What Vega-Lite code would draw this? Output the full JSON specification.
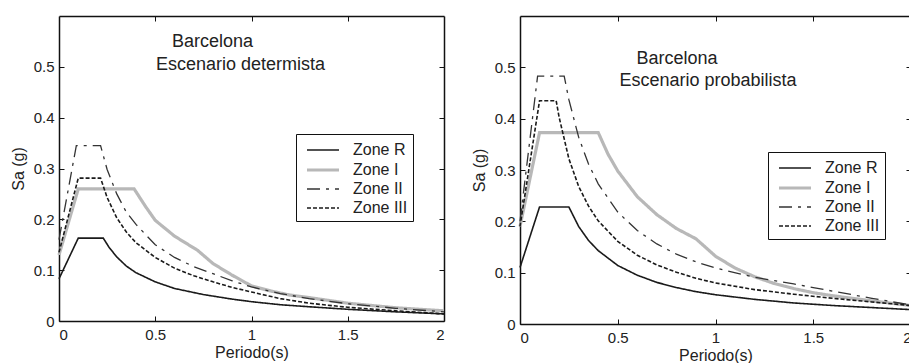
{
  "$schema": "https://vega.github.io/schema/vega-lite/v6.json",
  "padding": {"left": 10, "top": 15, "right": 0, "bottom": 0},
  "background": "white",
  "spacing": 20,
  "config": {
    "view": {"stroke": null},
    "font": "Liberation Sans",
    "axis": {"grid": false, "domainColor": "#111", "domainWidth": 1.5, "tickColor": "#111", "tickSize": -5, "tickWidth": 1, "labelFont": "Liberation Sans", "labelFontSize": 15, "labelColor": "#222", "titleFont": "Liberation Sans", "titleFontSize": 16, "titleFontWeight": "normal", "titleColor": "#222"},
    "legend": {"title": null, "symbolType": "M-1.6,0H1.6", "symbolSize": 400, "labelFontSize": 16, "labelFont": "Liberation Sans", "labelColor": "#222", "strokeColor": "#111", "fillColor": "white", "padding": 5, "symbolOffset": 10, "labelOffset": 18, "rowPadding": 0}
  },
  "resolve": {
    "scale": {"color": "independent", "strokeDash": "independent", "strokeWidth": "independent"},
    "legend": {"color": "independent", "strokeDash": "independent", "strokeWidth": "independent"}
  },
  "datasets": {
    "det": [
      {"T": 0, "Sa": 0.083, "zone": "Zone R"}, {"T": 0.1, "Sa": 0.163, "zone": "Zone R"}, {"T": 0.23, "Sa": 0.163, "zone": "Zone R"}, {"T": 0.26, "Sa": 0.145, "zone": "Zone R"}, {"T": 0.3, "Sa": 0.126, "zone": "Zone R"}, {"T": 0.35, "Sa": 0.108, "zone": "Zone R"}, {"T": 0.4, "Sa": 0.095, "zone": "Zone R"}, {"T": 0.5, "Sa": 0.077, "zone": "Zone R"}, {"T": 0.6, "Sa": 0.064, "zone": "Zone R"}, {"T": 0.75, "Sa": 0.052, "zone": "Zone R"}, {"T": 0.9, "Sa": 0.043, "zone": "Zone R"}, {"T": 1.0, "Sa": 0.038, "zone": "Zone R"}, {"T": 1.15, "Sa": 0.032, "zone": "Zone R"}, {"T": 1.3, "Sa": 0.028, "zone": "Zone R"}, {"T": 1.5, "Sa": 0.023, "zone": "Zone R"}, {"T": 1.75, "Sa": 0.018, "zone": "Zone R"}, {"T": 2.0, "Sa": 0.014, "zone": "Zone R"},
      {"T": 0, "Sa": 0.13, "zone": "Zone I"}, {"T": 0.1, "Sa": 0.26, "zone": "Zone I"}, {"T": 0.39, "Sa": 0.26, "zone": "Zone I"}, {"T": 0.45, "Sa": 0.225, "zone": "Zone I"}, {"T": 0.5, "Sa": 0.198, "zone": "Zone I"}, {"T": 0.6, "Sa": 0.167, "zone": "Zone I"}, {"T": 0.72, "Sa": 0.139, "zone": "Zone I"}, {"T": 0.8, "Sa": 0.113, "zone": "Zone I"}, {"T": 0.9, "Sa": 0.09, "zone": "Zone I"}, {"T": 1.0, "Sa": 0.069, "zone": "Zone I"}, {"T": 1.1, "Sa": 0.059, "zone": "Zone I"}, {"T": 1.2, "Sa": 0.051, "zone": "Zone I"}, {"T": 1.3, "Sa": 0.046, "zone": "Zone I"}, {"T": 1.5, "Sa": 0.035, "zone": "Zone I"}, {"T": 1.75, "Sa": 0.026, "zone": "Zone I"}, {"T": 2.0, "Sa": 0.02, "zone": "Zone I"},
      {"T": 0, "Sa": 0.16, "zone": "Zone II"}, {"T": 0.09, "Sa": 0.345, "zone": "Zone II"}, {"T": 0.216, "Sa": 0.345, "zone": "Zone II"}, {"T": 0.25, "Sa": 0.298, "zone": "Zone II"}, {"T": 0.3, "Sa": 0.25, "zone": "Zone II"}, {"T": 0.35, "Sa": 0.214, "zone": "Zone II"}, {"T": 0.4, "Sa": 0.19, "zone": "Zone II"}, {"T": 0.5, "Sa": 0.15, "zone": "Zone II"}, {"T": 0.6, "Sa": 0.125, "zone": "Zone II"}, {"T": 0.7, "Sa": 0.107, "zone": "Zone II"}, {"T": 0.8, "Sa": 0.093, "zone": "Zone II"}, {"T": 0.9, "Sa": 0.079, "zone": "Zone II"}, {"T": 1.0, "Sa": 0.067, "zone": "Zone II"}, {"T": 1.15, "Sa": 0.054, "zone": "Zone II"}, {"T": 1.3, "Sa": 0.044, "zone": "Zone II"}, {"T": 1.5, "Sa": 0.034, "zone": "Zone II"}, {"T": 1.75, "Sa": 0.025, "zone": "Zone II"}, {"T": 2.0, "Sa": 0.018, "zone": "Zone II"},
      {"T": 0, "Sa": 0.135, "zone": "Zone III"}, {"T": 0.1, "Sa": 0.281, "zone": "Zone III"}, {"T": 0.216, "Sa": 0.281, "zone": "Zone III"}, {"T": 0.25, "Sa": 0.243, "zone": "Zone III"}, {"T": 0.3, "Sa": 0.203, "zone": "Zone III"}, {"T": 0.35, "Sa": 0.175, "zone": "Zone III"}, {"T": 0.4, "Sa": 0.154, "zone": "Zone III"}, {"T": 0.5, "Sa": 0.125, "zone": "Zone III"}, {"T": 0.6, "Sa": 0.104, "zone": "Zone III"}, {"T": 0.7, "Sa": 0.089, "zone": "Zone III"}, {"T": 0.8, "Sa": 0.077, "zone": "Zone III"}, {"T": 0.9, "Sa": 0.066, "zone": "Zone III"}, {"T": 1.0, "Sa": 0.057, "zone": "Zone III"}, {"T": 1.15, "Sa": 0.044, "zone": "Zone III"}, {"T": 1.3, "Sa": 0.035, "zone": "Zone III"}, {"T": 1.5, "Sa": 0.027, "zone": "Zone III"}, {"T": 1.75, "Sa": 0.02, "zone": "Zone III"}, {"T": 2.0, "Sa": 0.014, "zone": "Zone III"}
    ],
    "prob": [
      {"T": 0, "Sa": 0.11, "zone": "Zone R"}, {"T": 0.1, "Sa": 0.228, "zone": "Zone R"}, {"T": 0.25, "Sa": 0.228, "zone": "Zone R"}, {"T": 0.3, "Sa": 0.19, "zone": "Zone R"}, {"T": 0.35, "Sa": 0.163, "zone": "Zone R"}, {"T": 0.4, "Sa": 0.143, "zone": "Zone R"}, {"T": 0.5, "Sa": 0.114, "zone": "Zone R"}, {"T": 0.6, "Sa": 0.095, "zone": "Zone R"}, {"T": 0.7, "Sa": 0.081, "zone": "Zone R"}, {"T": 0.8, "Sa": 0.071, "zone": "Zone R"}, {"T": 0.9, "Sa": 0.063, "zone": "Zone R"}, {"T": 1.0, "Sa": 0.057, "zone": "Zone R"}, {"T": 1.2, "Sa": 0.048, "zone": "Zone R"}, {"T": 1.4, "Sa": 0.041, "zone": "Zone R"}, {"T": 1.6, "Sa": 0.036, "zone": "Zone R"}, {"T": 1.8, "Sa": 0.032, "zone": "Zone R"}, {"T": 2.0, "Sa": 0.028, "zone": "Zone R"},
      {"T": 0, "Sa": 0.19, "zone": "Zone I"}, {"T": 0.1, "Sa": 0.373, "zone": "Zone I"}, {"T": 0.4, "Sa": 0.373, "zone": "Zone I"}, {"T": 0.45, "Sa": 0.331, "zone": "Zone I"}, {"T": 0.5, "Sa": 0.298, "zone": "Zone I"}, {"T": 0.6, "Sa": 0.248, "zone": "Zone I"}, {"T": 0.7, "Sa": 0.213, "zone": "Zone I"}, {"T": 0.8, "Sa": 0.186, "zone": "Zone I"}, {"T": 0.9, "Sa": 0.166, "zone": "Zone I"}, {"T": 1.0, "Sa": 0.132, "zone": "Zone I"}, {"T": 1.1, "Sa": 0.109, "zone": "Zone I"}, {"T": 1.2, "Sa": 0.092, "zone": "Zone I"}, {"T": 1.3, "Sa": 0.079, "zone": "Zone I"}, {"T": 1.4, "Sa": 0.069, "zone": "Zone I"}, {"T": 1.5, "Sa": 0.061, "zone": "Zone I"}, {"T": 1.6, "Sa": 0.055, "zone": "Zone I"}, {"T": 1.8, "Sa": 0.045, "zone": "Zone I"}, {"T": 2.0, "Sa": 0.036, "zone": "Zone I"},
      {"T": 0, "Sa": 0.2, "zone": "Zone II"}, {"T": 0.09, "Sa": 0.483, "zone": "Zone II"}, {"T": 0.226, "Sa": 0.483, "zone": "Zone II"}, {"T": 0.25, "Sa": 0.437, "zone": "Zone II"}, {"T": 0.3, "Sa": 0.364, "zone": "Zone II"}, {"T": 0.35, "Sa": 0.312, "zone": "Zone II"}, {"T": 0.4, "Sa": 0.273, "zone": "Zone II"}, {"T": 0.5, "Sa": 0.218, "zone": "Zone II"}, {"T": 0.6, "Sa": 0.182, "zone": "Zone II"}, {"T": 0.7, "Sa": 0.156, "zone": "Zone II"}, {"T": 0.8, "Sa": 0.136, "zone": "Zone II"}, {"T": 0.9, "Sa": 0.121, "zone": "Zone II"}, {"T": 1.0, "Sa": 0.109, "zone": "Zone II"}, {"T": 1.2, "Sa": 0.091, "zone": "Zone II"}, {"T": 1.4, "Sa": 0.078, "zone": "Zone II"}, {"T": 1.5, "Sa": 0.071, "zone": "Zone II"}, {"T": 1.6, "Sa": 0.064, "zone": "Zone II"}, {"T": 1.8, "Sa": 0.05, "zone": "Zone II"}, {"T": 2.0, "Sa": 0.037, "zone": "Zone II"},
      {"T": 0, "Sa": 0.19, "zone": "Zone III"}, {"T": 0.1, "Sa": 0.435, "zone": "Zone III"}, {"T": 0.185, "Sa": 0.435, "zone": "Zone III"}, {"T": 0.2, "Sa": 0.403, "zone": "Zone III"}, {"T": 0.25, "Sa": 0.322, "zone": "Zone III"}, {"T": 0.3, "Sa": 0.268, "zone": "Zone III"}, {"T": 0.35, "Sa": 0.23, "zone": "Zone III"}, {"T": 0.4, "Sa": 0.201, "zone": "Zone III"}, {"T": 0.5, "Sa": 0.161, "zone": "Zone III"}, {"T": 0.6, "Sa": 0.134, "zone": "Zone III"}, {"T": 0.7, "Sa": 0.115, "zone": "Zone III"}, {"T": 0.8, "Sa": 0.101, "zone": "Zone III"}, {"T": 0.9, "Sa": 0.089, "zone": "Zone III"}, {"T": 1.0, "Sa": 0.08, "zone": "Zone III"}, {"T": 1.2, "Sa": 0.067, "zone": "Zone III"}, {"T": 1.4, "Sa": 0.058, "zone": "Zone III"}, {"T": 1.6, "Sa": 0.05, "zone": "Zone III"}, {"T": 1.8, "Sa": 0.043, "zone": "Zone III"}, {"T": 2.0, "Sa": 0.036, "zone": "Zone III"}
    ],
    "one": [{}]
  },
  "hconcat": [
    {
      "width": 385, "height": 305,
      "layer": [
        {
          "data": {"name": "det"},
          "mark": {"type": "line", "strokeCap": "butt"},
          "encoding": {
            "x": {"field": "T", "type": "quantitative", "scale": {"domain": [0, 2], "nice": false, "zero": false}, "axis": {"orient": "bottom", "values": [0, 0.5, 1, 1.5, 2], "format": "~g", "labelPadding": 11, "title": "Periodo(s)", "titlePadding": 2}},
            "y": {"field": "Sa", "type": "quantitative", "scale": {"domain": [0, 0.6], "nice": false}, "axis": {"orient": "left", "values": [0, 0.1, 0.2, 0.3, 0.4, 0.5], "format": "~g", "labelPadding": 10, "title": "Sa (g)", "titlePadding": 7}},
            "color": {"field": "zone", "type": "nominal", "sort": ["Zone R", "Zone I", "Zone II", "Zone III"], "scale": {"domain": ["Zone R", "Zone I", "Zone II", "Zone III"], "range": ["#1a1a1a", "#b8b8b8", "#333333", "#1a1a1a"]},
              "legend": {"orient": "none", "legendX": 237, "legendY": 118}},
            "strokeDash": {"field": "zone", "type": "nominal", "sort": ["Zone R", "Zone I", "Zone II", "Zone III"], "scale": {"domain": ["Zone R", "Zone I", "Zone II", "Zone III"], "range": [[1, 0], [1, 0], [13, 6, 3, 6], [4, 2]]},
              "legend": {"orient": "none", "legendX": 237, "legendY": 118}},
            "strokeWidth": {"field": "zone", "type": "nominal", "sort": ["Zone R", "Zone I", "Zone II", "Zone III"], "scale": {"type": "ordinal", "domain": ["Zone R", "Zone I", "Zone II", "Zone III"], "range": [1.6, 3.2, 1.3, 1.6]},
              "legend": {"orient": "none", "legendX": 237, "legendY": 118}}
          }
        },
        {
          "data": {"name": "det"},
          "mark": {"type": "line", "opacity": 0},
          "encoding": {
            "x": {"field": "T", "type": "quantitative", "axis": {"orient": "top", "values": [0.5, 1, 1.5], "labels": false, "title": null}},
            "y": {"field": "Sa", "type": "quantitative", "axis": {"orient": "right", "values": [0.1, 0.2, 0.3, 0.4, 0.5], "labels": false, "title": null}},
            "detail": {"field": "zone"}
          }
        },
        {
          "data": {"name": "one"},
          "mark": {"type": "text", "align": "left", "baseline": "middle", "fontSize": 18, "font": "Liberation Sans", "color": "#222"},
          "encoding": {"x": {"datum": 0.587, "type": "quantitative", "axis": null}, "y": {"datum": 0.549, "type": "quantitative", "axis": null}, "text": {"value": "Barcelona"}}
        },
        {
          "data": {"name": "one"},
          "mark": {"type": "text", "align": "left", "baseline": "middle", "fontSize": 18, "font": "Liberation Sans", "color": "#222"},
          "encoding": {"x": {"datum": 0.504, "type": "quantitative", "axis": null}, "y": {"datum": 0.503, "type": "quantitative", "axis": null}, "text": {"value": "Escenario determista"}}
        }
      ],
      "resolve": {"axis": {"x": "independent", "y": "independent"}}
    },
    {
      "width": 391, "height": 308,
      "layer": [
        {
          "data": {"name": "prob"},
          "mark": {"type": "line", "strokeCap": "butt"},
          "encoding": {
            "x": {"field": "T", "type": "quantitative", "scale": {"domain": [0, 2], "nice": false, "zero": false}, "axis": {"orient": "bottom", "values": [0, 0.5, 1, 1.5, 2], "format": "~g", "labelPadding": 11, "title": "Periodo(s)", "titlePadding": 2}},
            "y": {"field": "Sa", "type": "quantitative", "scale": {"domain": [0, 0.6], "nice": false}, "axis": {"orient": "left", "values": [0, 0.1, 0.2, 0.3, 0.4, 0.5], "format": "~g", "labelPadding": 10, "title": "Sa (g)", "titlePadding": 7}},
            "color": {"field": "zone", "type": "nominal", "sort": ["Zone R", "Zone I", "Zone II", "Zone III"], "scale": {"domain": ["Zone R", "Zone I", "Zone II", "Zone III"], "range": ["#1a1a1a", "#b8b8b8", "#333333", "#1a1a1a"]},
              "legend": {"orient": "none", "legendX": 248, "legendY": 136}},
            "strokeDash": {"field": "zone", "type": "nominal", "sort": ["Zone R", "Zone I", "Zone II", "Zone III"], "scale": {"domain": ["Zone R", "Zone I", "Zone II", "Zone III"], "range": [[1, 0], [1, 0], [13, 6, 3, 6], [4, 2]]},
              "legend": {"orient": "none", "legendX": 248, "legendY": 136}},
            "strokeWidth": {"field": "zone", "type": "nominal", "sort": ["Zone R", "Zone I", "Zone II", "Zone III"], "scale": {"type": "ordinal", "domain": ["Zone R", "Zone I", "Zone II", "Zone III"], "range": [1.6, 3.2, 1.3, 1.6]},
              "legend": {"orient": "none", "legendX": 248, "legendY": 136}}
          }
        },
        {
          "data": {"name": "prob"},
          "mark": {"type": "line", "opacity": 0},
          "encoding": {
            "x": {"field": "T", "type": "quantitative", "axis": {"orient": "top", "values": [0.5, 1, 1.5], "labels": false, "title": null}},
            "y": {"field": "Sa", "type": "quantitative", "axis": {"orient": "right", "values": [0.1, 0.2, 0.3, 0.4, 0.5], "labels": false, "title": null}},
            "detail": {"field": "zone"}
          }
        },
        {
          "data": {"name": "one"},
          "mark": {"type": "text", "align": "left", "baseline": "middle", "fontSize": 18, "font": "Liberation Sans", "color": "#222"},
          "encoding": {"x": {"datum": 0.596, "type": "quantitative", "axis": null}, "y": {"datum": 0.517, "type": "quantitative", "axis": null}, "text": {"value": "Barcelona"}}
        },
        {
          "data": {"name": "one"},
          "mark": {"type": "text", "align": "left", "baseline": "middle", "fontSize": 18, "font": "Liberation Sans", "color": "#222"},
          "encoding": {"x": {"datum": 0.509, "type": "quantitative", "axis": null}, "y": {"datum": 0.474, "type": "quantitative", "axis": null}, "text": {"value": "Escenario probabilista"}}
        }
      ],
      "resolve": {"axis": {"x": "independent", "y": "independent"}}
    }
  ]
}
